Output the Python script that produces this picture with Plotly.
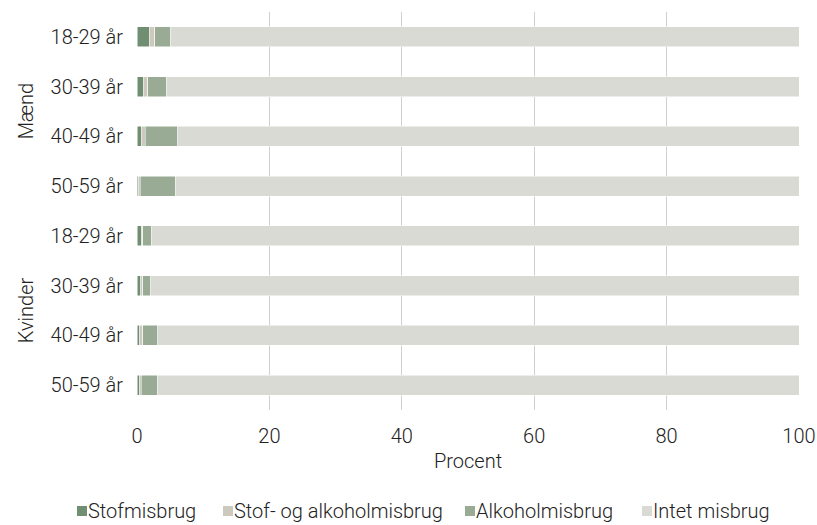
import plotly.graph_objects as go

groups = ["Mænd"] * 4 + ["Kvinder"] * 4
ages = ["18-29 år", "30-39 år", "40-49 år", "50-59 år"] * 2
keys = [g + " " + a for g, a in zip(groups, ages)]

stof = [1.85, 0.95, 0.65, 0.2, 0.65, 0.55, 0.35, 0.35]
stof_alko = [0.8, 0.7, 0.6, 0.3, 0.25, 0.3, 0.5, 0.3]
alko = [2.4, 2.8, 4.9, 5.3, 1.25, 1.25, 2.3, 2.4]
intet = [round(100 - a - b - c, 2) for a, b, c in zip(stof, stof_alko, alko)]

series_names = ["Stofmisbrug", "Stof- og alkoholmisbrug", "Alkoholmisbrug", "Intet misbrug"]
series_values = [stof, stof_alko, alko, intet]
series_colors = ["#6f8e72", "#cdc9bf", "#99ab95", "#d8dad3"]

FONT = "Roboto, sans-serif"

fig = go.Figure()
for name, vals, col in zip(series_names, series_values, series_colors):
    fig.add_trace(go.Bar(
        x=vals, y=keys, orientation="h", name=name,
        marker=dict(color=col, line=dict(color="white", width=0.5)),
        width=0.4, showlegend=False,
    ))

fig.update_layout(
    width=817, height=525,
    barmode="stack",
    showlegend=False,
    plot_bgcolor="white", paper_bgcolor="white",
    margin=dict(l=137, r=18, t=12, b=115, autoexpand=False),
    font=dict(family=FONT, size=20, color="#222222", weight=300),
    xaxis=dict(range=[0, 100], tickvals=[0, 20, 40, 60, 80, 100],
               showgrid=True, gridcolor="#d0d0d0", gridwidth=1,
               zeroline=False, showline=False, ticks="", automargin=False,
               ticklabelstandoff=12, ticklabeloverflow="allow",
               title=dict(text="Procent", standoff=6, font=dict(size=20)),
               fixedrange=True),
    yaxis=dict(categoryorder="array", categoryarray=keys,
               tickvals=keys, ticktext=ages, autorange="reversed", automargin=False,
               showgrid=False, ticks="", ticklabelstandoff=13, fixedrange=True),
)

# group labels
for g in ["Mænd", "Kvinder"]:
    idx = [i for i, gg in enumerate(groups) if gg == g]
    mid = (idx[0] + idx[-1]) / 2
    fig.add_annotation(text=g, textangle=-90, xref="paper", x=-0.168, xanchor="center",
                       yref="y", y=mid, showarrow=False, font=dict(size=20))

# legend drawn as swatches + text below the plot (paper coordinates)
legend_x = [-0.0906, 0.1299, 0.4955, 0.7628]
sw_w = 0.0151
sw_y0, sw_y1 = -0.2663, -0.2412
for name, col, lx in zip(series_names, series_colors, legend_x):
    fig.add_shape(type="rect", xref="paper", yref="paper",
                  x0=lx, x1=lx + sw_w, y0=sw_y0, y1=sw_y1,
                  fillcolor=col, line=dict(width=0))
    fig.add_annotation(text=name, xref="paper", yref="paper",
                       x=lx + sw_w, xanchor="left", y=-0.2538, yanchor="middle",
                       showarrow=False, borderpad=0, font=dict(size=20))

fig.write_html("out.html", config={"displayModeBar": False},
               post_script="document.body.style.margin='0';document.body.style.overflow='hidden';")
